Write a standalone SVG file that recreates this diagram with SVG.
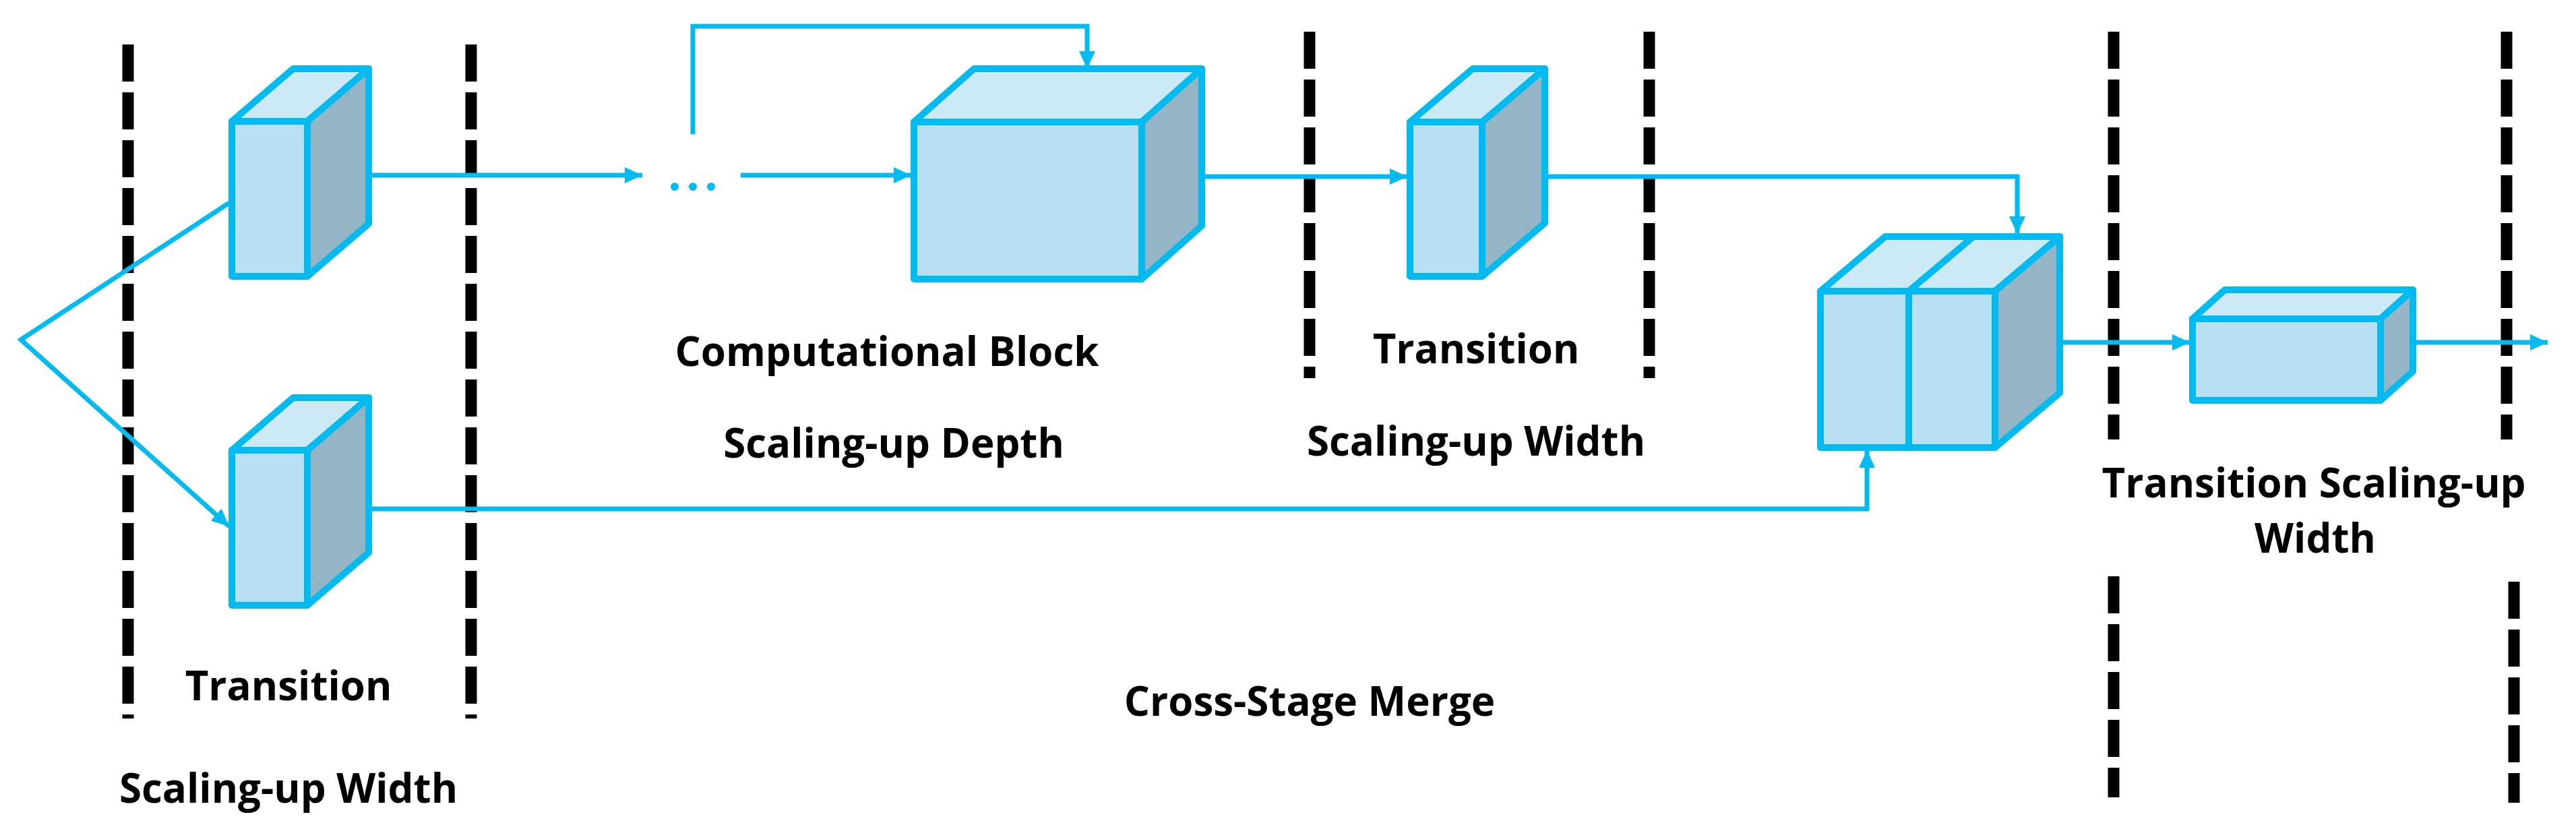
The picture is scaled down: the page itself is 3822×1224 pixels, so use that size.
<svg xmlns="http://www.w3.org/2000/svg" width="3822" height="1224" viewBox="0 0 3822 1224">
<style>
.f{fill:#B8E0F2;stroke:#00BAF0;stroke-width:10;stroke-linejoin:round}
.t{fill:#CDE9F5;stroke:#00BAF0;stroke-width:10;stroke-linejoin:round}
.r{fill:#94B5C5;stroke:#00BAF0;stroke-width:10;stroke-linejoin:round}
.c{fill:none;stroke:#00BAF0;stroke-width:7}
.d{stroke:#000;stroke-width:17;stroke-dasharray:55 16}
text{font-family:"Open Sans","Liberation Sans",sans-serif;font-weight:bold;font-size:60px;fill:#000;text-anchor:middle}
</style>
<defs>
<marker id="a" markerUnits="userSpaceOnUse" markerWidth="30" markerHeight="30" refX="26" refY="12" orient="auto"><path d="M0,0 L26,12 L0,24 Z" fill="#00BAF0"/></marker>
</defs>
<rect width="3822" height="1224" fill="#fff"/>
<g id="dividers">
<line class="d" x1="190" y1="66" x2="190" y2="1066"/>
<line class="d" x1="699" y1="66" x2="699" y2="1066"/>
<line class="d" x1="1943" y1="47" x2="1943" y2="561"/>
<line class="d" x1="2447" y1="47" x2="2447" y2="561"/>
<line class="d" x1="3136" y1="47" x2="3136" y2="652"/>
<line class="d" x1="3719" y1="47" x2="3719" y2="652"/>
<line class="d" x1="3136" y1="855" x2="3136" y2="1183"/>
<line class="d" x1="3730" y1="863" x2="3730" y2="1191"/>
</g>
<g id="connectors">
<polyline class="c" points="340,301 31,504 340,781" marker-start="url(#a)" marker-end="url(#a)"/>
<line class="c" x1="497" y1="260" x2="953" y2="260" marker-end="url(#a)"/>
<polyline class="c" points="1028,199 1028,39 1613,39 1613,102" marker-end="url(#a)"/>
<line class="c" x1="1099" y1="260" x2="1352" y2="260" marker-end="url(#a)"/>
<line class="c" x1="1760" y1="262" x2="2088" y2="262" marker-end="url(#a)"/>
<polyline class="c" points="2245,262 2993,262 2993,347" marker-end="url(#a)"/>
<polyline class="c" points="497,755 2770,755 2770,668" marker-end="url(#a)"/>
<line class="c" x1="2993" y1="508" x2="3249" y2="508" marker-end="url(#a)"/>
<line class="c" x1="3554" y1="508" x2="3780" y2="508" marker-end="url(#a)"/>
<g fill="#00BAF0"><circle cx="1001" cy="277" r="6"/><circle cx="1028" cy="277" r="6"/><circle cx="1055" cy="277" r="6"/></g>
</g>
<g id="box-top">
<polygon class="t" points="344,180 435,102 547,102 456,180"/>
<polygon class="r" points="456,180 547,102 547,332 456,410"/>
<rect class="f" x="344" y="180" width="112" height="230"/>
</g>
<g id="box-bottom">
<polygon class="t" points="344,668 435,590 547,590 456,668"/>
<polygon class="r" points="456,668 547,590 547,820 456,898"/>
<rect class="f" x="344" y="668" width="112" height="230"/>
</g>
<g id="computational-block">
<polygon class="t" points="1356,181 1445,102 1783,102 1694,181"/>
<polygon class="r" points="1694,181 1783,102 1783,335 1694,414"/>
<rect class="f" x="1356" y="181" width="338" height="233"/>
</g>
<g id="transition-box">
<polygon class="t" points="2092,181 2185,102 2292,102 2199,181"/>
<polygon class="r" points="2199,181 2292,102 2292,331 2199,410"/>
<rect class="f" x="2092" y="181" width="107" height="229"/>
</g>
<g id="merge-box">
<polygon class="t" points="2701,432 2797,351 3056,351 2960,432"/>
<line class="t" x1="2832" y1="432" x2="2928" y2="351"/>
<polygon class="r" points="2960,432 3056,351 3056,583 2960,664"/>
<rect class="f" x="2701" y="432" width="259" height="232"/>
<line class="t" x1="2832" y1="432" x2="2832" y2="664"/>
</g>
<g id="final-box">
<polygon class="t" points="3253,473 3301,430 3580,430 3532,473"/>
<polygon class="r" points="3532,473 3580,430 3580,551 3532,594"/>
<rect class="f" x="3253" y="473" width="279" height="121"/>
</g>
<g id="labels">
<text x="428" y="1039">Transition</text>
<text x="428" y="1191">Scaling-up Width</text>
<text x="1316" y="543">Computational Block</text>
<text x="1326" y="679">Scaling-up Depth</text>
<text x="2190" y="539">Transition</text>
<text x="2190" y="676">Scaling-up Width</text>
<text x="1943" y="1062">Cross-Stage Merge</text>
<text x="3433" y="738">Transition Scaling-up</text>
<text x="3435" y="820">Width</text>
</g>
</svg>
